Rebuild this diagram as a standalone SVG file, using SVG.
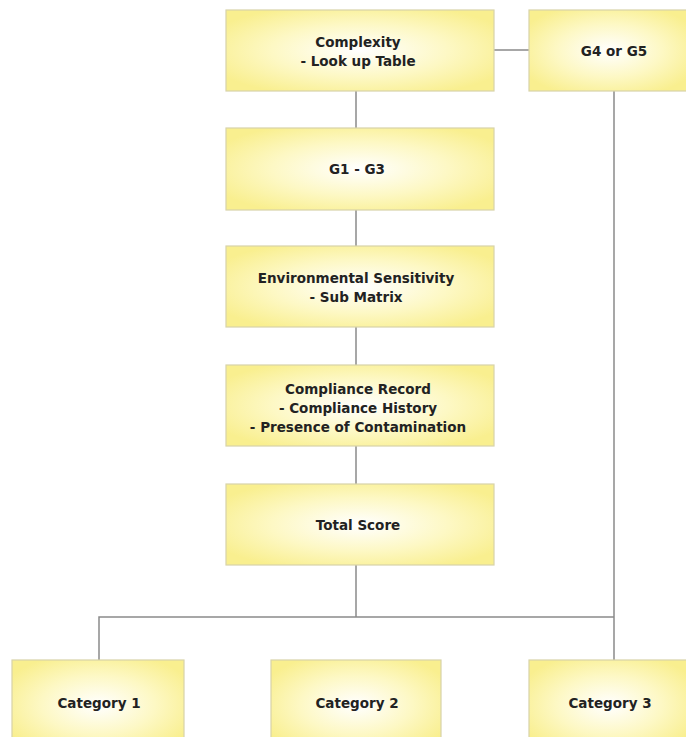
<svg xmlns="http://www.w3.org/2000/svg" width="686" height="737" viewBox="0 0 686 737">
<defs>
<radialGradient id="g" cx="0.5" cy="0.5" r="0.6">
<stop offset="0" stop-color="#ffffff"/>
<stop offset="0.55" stop-color="#fdf8c4"/>
<stop offset="1" stop-color="#f9ef8f"/>
</radialGradient>
</defs>
<style>
.box{fill:url(#g);stroke:#d8d3a8;stroke-width:1.2}
.t{font-family:"DejaVu Sans",Verdana,sans-serif;font-weight:bold;font-size:13.5px;fill:#222;text-anchor:middle}
.c{stroke:#8a8a8a;stroke-width:1.5;fill:none}
</style>
<rect width="686" height="737" fill="#fff"/>
<g id="connectors">
<line class="c" x1="494" y1="50" x2="529" y2="50"/>
<line class="c" x1="356" y1="91" x2="356" y2="128"/>
<line class="c" x1="356" y1="210" x2="356" y2="246"/>
<line class="c" x1="356" y1="327" x2="356" y2="365"/>
<line class="c" x1="356" y1="446" x2="356" y2="484"/>
<line class="c" x1="356" y1="565" x2="356" y2="617"/>
<line class="c" x1="614" y1="91" x2="614" y2="660"/>
<polyline class="c" points="99,660 99,617 614,617"/>
</g>
<g id="complexity">
<rect class="box" x="226" y="10" width="268" height="81"/>
<text class="t" x="358" y="47">Complexity</text>
<text class="t" x="358" y="66">- Look up Table</text>
</g>
<g id="g4g5">
<rect class="box" x="529" y="10" width="160" height="81"/>
<text class="t" x="614" y="56">G4 or G5</text>
</g>
<g id="g1g3">
<rect class="box" x="226" y="128" width="268" height="82"/>
<text class="t" x="357" y="174">G1 - G3</text>
</g>
<g id="env">
<rect class="box" x="226" y="246" width="268" height="81"/>
<text class="t" x="356" y="283">Environmental Sensitivity</text>
<text class="t" x="356" y="302">- Sub Matrix</text>
</g>
<g id="compliance">
<rect class="box" x="226" y="365" width="268" height="81"/>
<text class="t" x="358" y="394">Compliance Record</text>
<text class="t" x="358" y="413">- Compliance History</text>
<text class="t" x="358" y="432">- Presence of Contamination</text>
</g>
<g id="total">
<rect class="box" x="226" y="484" width="268" height="81"/>
<text class="t" x="358" y="530">Total Score</text>
</g>
<g id="cat1">
<rect class="box" x="12" y="660" width="172" height="90"/>
<text class="t" x="99" y="708">Category 1</text>
</g>
<g id="cat2">
<rect class="box" x="271" y="660" width="170" height="90"/>
<text class="t" x="357" y="708">Category 2</text>
</g>
<g id="cat3">
<rect class="box" x="529" y="660" width="160" height="90"/>
<text class="t" x="610" y="708">Category 3</text>
</g>
</svg>
